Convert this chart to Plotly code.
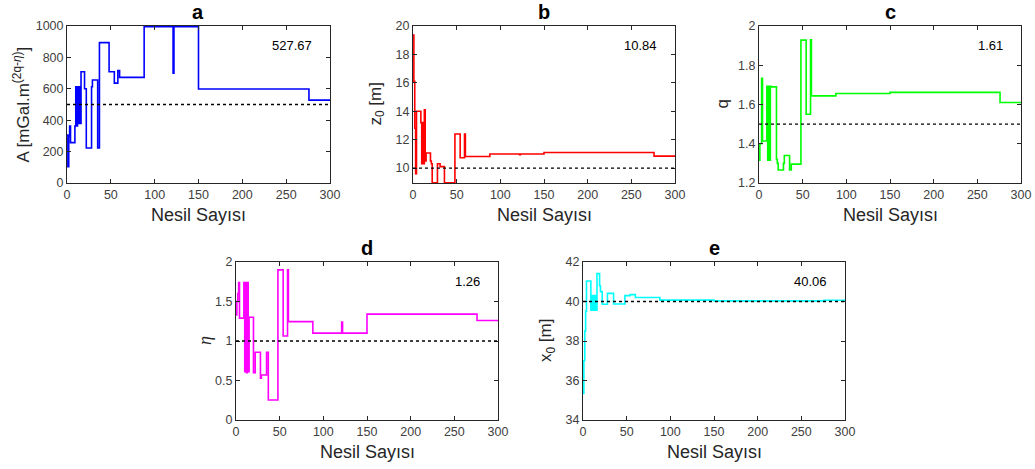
import plotly.graph_objects as go

# ---------------- data (generation change points and values) ----------------
gen_a = [0, 1, 2, 3, 4, 9, 10, 11, 12, 13, 14, 15, 16, 20, 22, 28, 29, 35, 37, 48, 54, 58, 60, 88, 121, 122, 150, 276, 300]
val_a = [306, 104, 300, 363, 257, 363, 613, 363, 613, 380, 613, 380, 709, 600, 223, 613, 656, 223, 894, 709, 636, 716, 673, 995, 700, 995, 599, 527.67, 527.67]

gen_b = [0, 1, 2, 3, 4, 9, 10, 11, 12, 13, 14, 15, 20, 21, 22, 28, 31, 36, 48, 54, 59, 60, 88, 122, 123, 150, 276, 300]
val_b = [19.36, 16.1, 12.8, 9.6, 14.0, 13.2, 10.3, 13.2, 10.3, 14.1, 10.5, 11.06, 10.5, 10.3, 8.96, 10.3, 10.1, 8.96, 12.4, 10.73, 12.4, 10.82, 10.99, 10.95, 10.99, 11.1, 10.84, 10.84]

gen_c = [0, 1, 3, 4, 9, 10, 11, 12, 13, 14, 20, 21, 22, 28, 29, 35, 37, 48, 54, 59, 60, 88, 150, 276, 300]
val_c = [1.316, 1.40, 1.733, 1.414, 1.693, 1.316, 1.693, 1.316, 1.693, 1.69, 1.32, 1.30, 1.266, 1.30, 1.34, 1.266, 1.296, 1.928, 1.55, 1.93, 1.644, 1.656, 1.662, 1.61, 1.61]

gen_d = [0, 1, 2, 3, 4, 9, 10, 11, 12, 13, 14, 15, 20, 22, 28, 29, 35, 37, 48, 54, 59, 60, 88, 121, 122, 150, 276, 300]
val_d = [1.33, 1.5, 1.6, 1.74, 1.29, 1.74, 0.61, 1.74, 0.60, 1.74, 0.61, 1.30, 0.60, 0.857, 0.53, 0.57, 0.857, 0.253, 1.9, 1.063, 1.9, 1.245, 1.10, 1.24, 1.10, 1.34, 1.26, 1.26]

gen_e = [0, 1, 2, 3, 4, 9, 10, 11, 12, 13, 14, 15, 16, 19, 20, 22, 28, 35, 48, 54, 60, 88, 150, 276, 300]
val_e = [35.35, 37.0, 38.5, 39.5, 41.04, 39.56, 40.3, 39.56, 40.3, 39.56, 40.3, 39.56, 41.41, 40.8, 40.5, 39.86, 40.41, 39.87, 40.3, 40.35, 40.2, 40.07, 40.03, 40.06, 40.06]

true_vals = [500, 10, 1.5, 1, 40]
final_labels = ["527.67", "10.84", "1.61", "1.26", "40.06"]
panel_titles = ["a", "b", "c", "d", "e"]
y_titles = ["A [mGal.m<sup>(2q-<i>η</i>)</sup>]", "z<sub>0</sub> [m]", "q", "<i>η</i>", "x<sub>0</sub> [m]"]
x_title = "Nesil Sayısı"
colors = ["#0000ff", "#ff0000", "#00ff00", "#ff00ff", "#00ffff"]
y_ranges = [[0, 1000], [8.95, 20], [1.2, 2.0], [0, 2], [34, 42]]
y_dticks = [200, 2, 0.2, 0.5, 2]

gens = [gen_a, gen_b, gen_c, gen_d, gen_e]
vals = [val_a, val_b, val_c, val_d, val_e]

# ---------------- layout geometry ----------------
W, H = 1035, 469
boxes = [(67, 330, 26, 183), (413, 675, 26, 183), (759, 1021, 26, 183),
         (236, 498, 262, 420), (583, 845, 262, 420)]
ytitle_off = [45, 36, 37, 31, 36]

FONT = "Liberation Sans, Arial, Helvetica, sans-serif"
AX = "#262626"

fig = go.Figure()
annotations = []
shapes = []
for i in range(5):
    n = "" if i == 0 else str(i + 1)
    xa, ya = "x" + n, "y" + n
    x0, x1, y0, y1 = boxes[i]
    fig.add_trace(go.Scatter(x=gens[i], y=vals[i], mode="lines", xaxis=xa, yaxis=ya,
                             line=dict(color=colors[i], width=1.6, shape="hv"),
                             showlegend=False, hoverinfo="skip"))
    common = dict(showline=True, linecolor=AX, linewidth=1, mirror="ticks", ticks="inside",
                  ticklen=4, tickcolor=AX, tickwidth=1, showgrid=False, zeroline=False,
                  automargin=False,
                  tickfont=dict(family=FONT, size=12.5, color="#404040"))
    fig.update_layout(**{
        "xaxis" + n: dict(domain=[x0 / W, x1 / W], anchor=ya, range=[0, 300], dtick=50, **common),
        "yaxis" + n: dict(domain=[1 - y1 / H, 1 - y0 / H], anchor=xa, range=y_ranges[i],
                          dtick=y_dticks[i], **common),
    })
    shapes.append(dict(type="line", xref=xa + " domain", yref=ya, x0=0, x1=1,
                       y0=true_vals[i], y1=true_vals[i], line=dict(color="black", width=1.4, dash="dot")))
    annotations.append(dict(text="<b>%s</b>" % panel_titles[i], xref=xa + " domain", yref=ya + " domain",
                            x=0.5, y=1, yanchor="bottom", yshift=1, showarrow=False,
                            font=dict(family=FONT, size=20, color="black")))
    annotations.append(dict(text=final_labels[i], xref=xa + " domain", yref=ya + " domain",
                            x=0.94, y=0.875, xanchor="right", yanchor="middle", showarrow=False,
                            font=dict(family=FONT, size=13, color="black")))
    annotations.append(dict(text=x_title, xref=xa + " domain", yref=ya + " domain",
                            x=0.5, y=0, yanchor="middle", yshift=-32, showarrow=False,
                            font=dict(family=FONT, size=18, color="#262626")))
    yfont = dict(family=FONT, size=17, color="#262626")
    if i == 3:
        yfont = dict(family="Liberation Serif, Times New Roman, serif", size=18, color="#262626")
    annotations.append(dict(text=y_titles[i], xref=xa + " domain", yref=ya + " domain",
                            x=0, y=0.5, xanchor="center", yanchor="middle", xshift=-ytitle_off[i],
                            textangle=-90, showarrow=False, font=yfont))

fig.update_layout(width=W, height=H, margin=dict(l=0, r=0, t=0, b=0, autoexpand=False),
                  paper_bgcolor="white", plot_bgcolor="white",
                  annotations=annotations, shapes=shapes)

fig.write_html("out.html", config={"displayModeBar": False},
               post_script="document.body.style.margin='0';")
